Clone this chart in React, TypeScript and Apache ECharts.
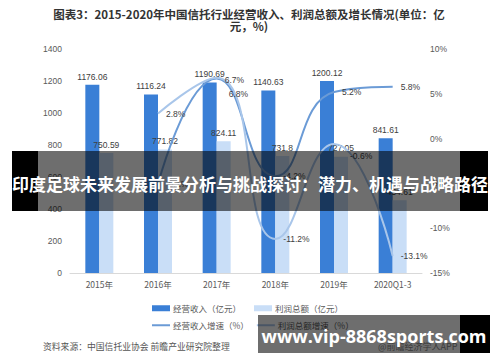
import React, { useEffect, useRef } from "react";
import * as echarts from "echarts";

const categories = ["2015年", "2016年", "2017年", "2018年", "2019年", "2020Q1-3"];
const revenue = [1176.06, 1116.24, 1190.69, 1140.63, 1200.12, 841.61];
const profit = [750.59, 771.82, 824.11, 731.8, 727.05, 454.61];
const revenueGrowth = [null, -5.1, 6.7, -4.2, 5.2, 5.8];
const profitGrowth = [null, 2.8, 6.8, -11.2, -0.6, -13.1];
const leftTicks = { min: 0, max: 1400, interval: 200 };
const rightTicks = { min: -15, max: 10, interval: 5 };

const FONT = "'Liberation Sans', 'Noto Sans CJK SC', sans-serif";
const CJK = "'Noto Sans CJK SC', sans-serif";

export default function App() {
  const ref = useRef<HTMLDivElement>(null);
  useEffect(() => {
    document.body.style.margin = "0";
    const chart = echarts.init(ref.current!, null, { renderer: "svg" });
    const revOffsets: Record<number, number[]> = { 2: [0, 1] };
    const profOffsets: Record<number, number[]> = { 2: [4, 16], 4: [8, 12] };
    const lineLabel = {
      show: true,
      position: "right",
      distance: 8,
      fontSize: 8.5,
      color: "#404040",
      formatter: (p: any) => p.value + "%",
    };
    const mk = (arr: (number | null)[], offs: Record<number, number[]>) =>
      arr.map((v, i) =>
        v === null ? null : offs[i] ? { value: v, label: { offset: offs[i] } } : v
      );
    chart.setOption({
      animation: false,
      textStyle: { fontFamily: FONT },
      grid: { left: 70, right: 78, top: 49, bottom: 89 },
      legend: [
        {
          data: ["经营收入（亿元）", "利润总额（亿元）"],
          left: 147,
          top: 299,
          icon: "rect",
          itemWidth: 18,
          itemHeight: 6,
          itemGap: 13,
          textStyle: { fontSize: 8.5, color: "#595959", fontFamily: CJK, padding: [0, 0, 0, -2] },
        },
        {
          data: ["经营收入增速（%）", "利润总额增速（%）"],
          left: 147,
          top: 316,
          icon: "rect",
          itemWidth: 18,
          itemHeight: 2,
          itemGap: 8,
          textStyle: { fontSize: 8.5, color: "#595959", fontFamily: CJK, padding: [0, 0, 0, -2] },
        },
      ],
      xAxis: {
        type: "category",
        data: categories,
        axisLine: { lineStyle: { color: "#d9d9d9" } },
        axisTick: { show: false },
        axisLabel: { color: "#595959", fontSize: 8.5, margin: 7, fontFamily: CJK },
      },
      yAxis: [
        {
          type: "value",
          ...leftTicks,
          axisLine: { show: false },
          axisTick: { show: false },
          splitLine: { show: false },
          axisLabel: { color: "#595959", fontSize: 8.5, margin: 8, formatter: (v: number) => String(v) },
        },
        {
          type: "value",
          ...rightTicks,
          axisLine: { show: false },
          axisTick: { show: false },
          splitLine: { show: false },
          axisLabel: { color: "#595959", fontSize: 8.5, margin: 8, formatter: (v: number) => v + "%" },
        },
      ],
      series: [
        {
          name: "经营收入（亿元）",
          type: "bar",
          data: revenue,
          barWidth: 14,
          barGap: "0%",
          itemStyle: { color: "#3a7fd6" },
          label: { show: true, position: "top", distance: 4, fontSize: 8.5, color: "#404040" },
        },
        {
          name: "利润总额（亿元）",
          type: "bar",
          data: profit,
          barWidth: 14,
          barGap: "0%",
          itemStyle: { color: "#c9def7" },
          label: { show: true, position: "top", distance: 4, fontSize: 8.5, color: "#404040" },
        },
        {
          name: "经营收入增速（%）",
          type: "line",
          yAxisIndex: 1,
          data: mk(revenueGrowth, revOffsets),
          smooth: 0.5,
          symbol: "circle",
          symbolSize: 0,
          lineStyle: { color: "#6b9bd6", width: 2 },
          itemStyle: { color: "#6b9bd6" },
          label: lineLabel,
        },
        {
          name: "利润总额增速（%）",
          type: "line",
          yAxisIndex: 1,
          data: mk(profitGrowth, profOffsets),
          smooth: 0.5,
          symbol: "circle",
          symbolSize: 0,
          lineStyle: { color: "#a9c6ea", width: 2 },
          itemStyle: { color: "#a9c6ea" },
          label: lineLabel,
        },
      ],
      graphic: [
        {
          type: "text",
          x: 249,
          y: 8,
          style: {
            text: "图表3：2015-2020年中国信托行业经营收入、利润总额及增长情况(单位：亿\n元，%)",
            align: "center",
            fontSize: 11.5,
            lineHeight: 12,
            fontWeight: "bold",
            fill: "#333333",
            fontFamily: CJK,
          },
        },
        {
          type: "text",
          x: 43,
          y: 342,
          style: {
            text: "资料来源：中国信托业协会 前瞻产业研究院整理",
            fontSize: 8.8,
            fill: "#555555",
            fontFamily: CJK,
          },
        },
        {
          type: "text",
          x: 378,
          y: 342,
          style: { text: "@前瞻经济学人APP", fontSize: 9, fill: "#888888", fontFamily: CJK },
        },
        { type: "rect", z: 100, shape: { x: 38, y: 151, width: 422, height: 60 }, style: { fill: "rgba(0,0,0,0.57)" } },
        { type: "rect", z: 100, shape: { x: 12, y: 151, width: 26, height: 60 }, style: { fill: "#000" } },
        { type: "rect", z: 100, shape: { x: 460, y: 151, width: 28, height: 60 }, style: { fill: "#000" } },
        {
          type: "text",
          z: 101,
          x: 250,
          y: 183,
          style: {
            text: "印度足球未来发展前景分析与挑战探讨：潜力、机遇与战略路径",
            align: "center",
            verticalAlign: "middle",
            fontSize: 17,
            fontWeight: "bold",
            fill: "#ffffff",
            fontFamily: CJK,
          },
        },
        { type: "rect", z: 100, shape: { x: 258, y: 315, width: 202, height: 38 }, style: { fill: "rgba(0,0,0,0.57)" } },
        { type: "rect", z: 100, shape: { x: 460, y: 315, width: 30, height: 38 }, style: { fill: "#000" } },
        {
          type: "text",
          z: 101,
          x: 374,
          y: 336,
          style: {
            text: "www.vip-8868sports.com",
            align: "center",
            verticalAlign: "middle",
            fontSize: 18,
            fontWeight: "bold",
            fill: "#ffffff",
            fontFamily: "'Open Sans', sans-serif",
          },
        },
      ],
    });
    return () => chart.dispose();
  }, []);
  return <div ref={ref} style={{ width: 500, height: 362 }} />;
}
